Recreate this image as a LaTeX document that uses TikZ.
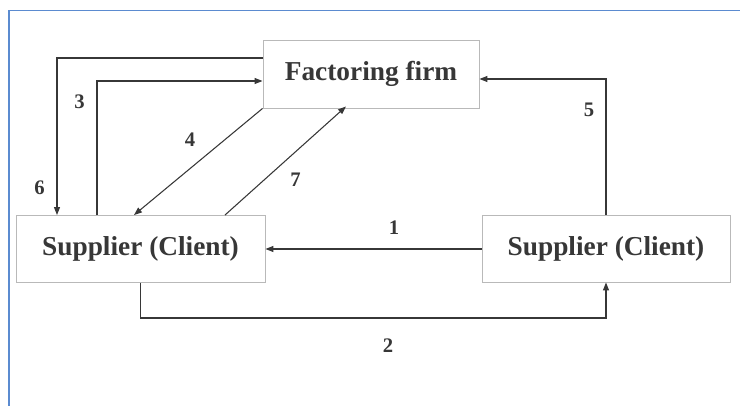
\documentclass[tikz,border=0pt]{standalone}
\usepackage{fontspec}
\setmainfont{Liberation Serif}
\usetikzlibrary{arrows.meta}
\definecolor{framebl}{RGB}{91,139,208}
\definecolor{boxgr}{RGB}{185,185,185}
\definecolor{inkgr}{RGB}{55,55,55}
\begin{document}
\begin{tikzpicture}[x=0.75pt,y=0.75pt,yscale=-1,xscale=1,
  box/.style={draw=boxgr, line width=0.7pt, fill=white, inner sep=0pt, text=inkgr, font=\fontsize{20.5}{24}\selectfont\bfseries},
  link/.style={draw=inkgr, line width=0.8pt, -{Triangle[length=6pt,width=4.5pt]}},
  num/.style={inner sep=0.75pt, text=inkgr, font=\fontsize{15.5}{18}\selectfont\bfseries}]
        %set diagram size
        \useasboundingbox (0,0) rectangle (740,406);
        %Frame
        \draw [color=framebl, line width=1.2pt] (9,406) -- (9,10.5) -- (740,10.5);

        %Shape: Rectangle
        \node [box, minimum width=162pt, minimum height=51pt] (firm) at (371,74) {Factoring firm};
        %Shape: Rectangle
        \node [box, minimum width=186.75pt, minimum height=50.25pt] (suppl) at (140.5,249) {Supplier (Client)};
        %Shape: Rectangle
        \node [box, minimum width=186pt, minimum height=50.25pt] (suppr) at (606,248.5) {Supplier (Client)};

        % bends
        \coordinate (b2) at (140.5,318);
        \coordinate (b3) at (97,81);
        \coordinate (b6) at (57,58);
        \coordinate (b5) at (606,79);
        \coordinate (e4) at (134,0);
        \coordinate (s7) at (225,0);
        \coordinate (e7) at (346,0);

        %Straight Lines
        \draw [link] (suppr.west |- 0,249) -- (suppl.east |- 0,249);
        \draw [link] (suppl.south) -- (b2) -| (suppr.south);
        \draw [link] (suppl.north -| b3) -- (b3) -- (b3 -| firm.west);
        \draw [link] (b6 -| firm.west) -- (b6) -- (b6 |- suppl.north);
        \draw [link] (firm.south west) -- (suppl.north -| e4);
        \draw [link] (suppl.north -| s7) -- ([yshift=-1.5pt]firm.south -| e7);
        \draw [link] (suppr.north) -- (b5) -- (b5 -| firm.east);

        % Text Node
        \node [num] (n1) at (394,228) {1};
        % Text Node
        \node [num] (n2) at (388,346) {2};
        % Text Node
        \node [num] (n3) at (79.5,101.5) {3};
        % Text Node
        \node [num] (n4) at (190,139.5) {4};
        % Text Node
        \node [num] (n5) at (589,109.5) {5};
        % Text Node
        \node [num] (n6) at (39.5,187.5) {6};
        % Text Node
        \node [num] (n7) at (295.5,179.5) {7};
\end{tikzpicture}
\end{document}
